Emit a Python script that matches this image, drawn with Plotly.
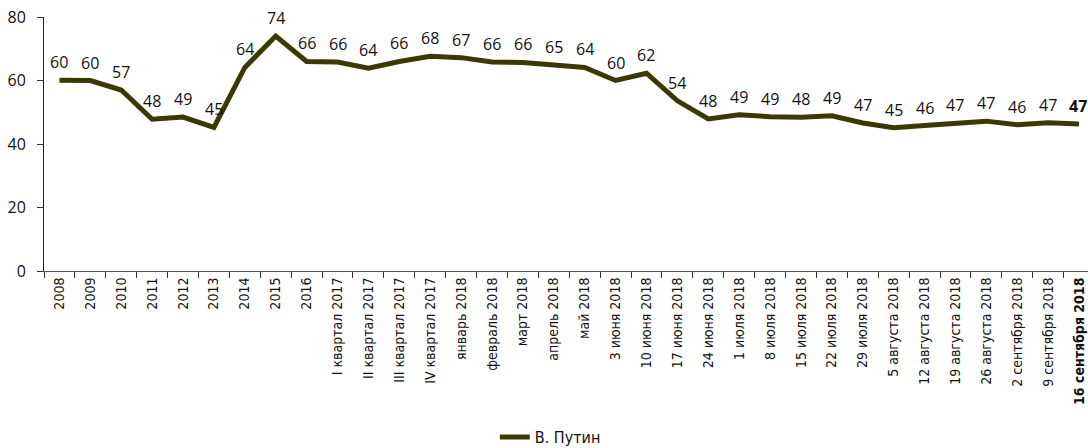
import plotly.graph_objects as go

categories = ["2008", "2009", "2010", "2011", "2012", "2013", "2014", "2015", "2016",
              "I квартал 2017", "II квартал 2017", "III квартал 2017", "IV квартал 2017",
              "январь 2018", "февраль 2018", "март 2018", "апрель 2018", "май 2018",
              "3 июня 2018", "10 июня 2018", "17 июня 2018", "24 июня 2018",
              "1 июля 2018", "8 июля 2018", "15 июля 2018", "22 июля 2018", "29 июля 2018",
              "5 августа 2018", "12 августа 2018", "19 августа 2018", "26 августа 2018",
              "2 сентября 2018", "9 сентября 2018", "16 сентября 2018"]
values = [60.1, 60.0, 57.0, 47.8, 48.5, 45.2, 64.1, 74.0, 66.0, 65.8, 63.9, 66.0, 67.6,
          67.2, 65.8, 65.7, 64.9, 64.1, 60.0, 62.3, 53.6, 47.9, 49.2, 48.6, 48.4, 48.9,
          46.6, 45.1, 45.8, 46.6, 47.2, 46.1, 46.7, 46.3]
labels = [60, 60, 57, 48, 49, 45, 64, 74, 66, 66, 64, 66, 68, 67, 66, 66, 65, 64,
          60, 62, 54, 48, 49, 49, 48, 49, 47, 45, 46, 47, 47, 46, 47, 47]
series_name = "В. Путин"
line_color = "#3a3a00"
cond_font = "DejaVu Sans Condensed, Roboto, sans-serif"

n = len(categories)
idx = list(range(n))
tick_text = [c if i < n - 1 else "<b>" + c + "</b>" for i, c in enumerate(categories)]

fig = go.Figure()
fig.add_trace(go.Scatter(x=idx, y=values, mode="lines", name=series_name,
                         line=dict(color=line_color, width=5)))

for i, (v, l) in enumerate(zip(values, labels)):
    last = i == n - 1
    txt = "<b>" + str(l) + "</b>" if last else str(l)
    fig.add_annotation(x=i, y=v, text=txt, showarrow=False, yanchor="middle",
                       yshift=18, xshift=-1 if last else 0,
                       font=dict(family="Open Sans", size=16, color="#111"))

fig.update_layout(
    width=1088, height=448,
    margin=dict(l=44, r=0, t=17, b=177, autoexpand=False),
    paper_bgcolor="white", plot_bgcolor="white",
    showlegend=True,
    legend=dict(orientation="h", x=0.485, xanchor="center", y=-0.654, yanchor="middle",
                font=dict(family=cond_font, size=16, color="#111")),
    xaxis=dict(range=[-0.5, 33.29], tickmode="array", automargin=False,
               tickvals=idx, ticktext=tick_text, tickangle=-90, ticklabeloverflow="allow",
               ticks="", showline=True, linecolor="#555", linewidth=1, showgrid=False,
               zeroline=False,
               tickfont=dict(family=cond_font, size=14, color="#111")),
    xaxis2=dict(overlaying="x", range=[-0.5, 33.29], tickmode="array", automargin=False,
                tickvals=[i - 0.5 for i in range(n + 1)], ticktext=[""] * (n + 1),
                ticks="outside", ticklen=6, tickcolor="#333", side="bottom",
                showgrid=False, zeroline=False, showline=False, anchor="y"),
    yaxis=dict(range=[0, 80], tickvals=[0, 20, 40, 60, 80], ticks="outside", ticklen=6,
               tickcolor="#333", showline=True, linecolor="#222", linewidth=1,
               showgrid=False, zeroline=False, ticklabelstandoff=8, automargin=False,
               tickfont=dict(family="Open Sans", size=16, color="#111")),
)
fig.add_trace(go.Scatter(x=[None], y=[None], xaxis="x2", showlegend=False, hoverinfo="skip"))

fig.write_html("out.html", config={"displayModeBar": False},
               post_script="document.body.style.margin='0';document.body.style.overflow='hidden';")
